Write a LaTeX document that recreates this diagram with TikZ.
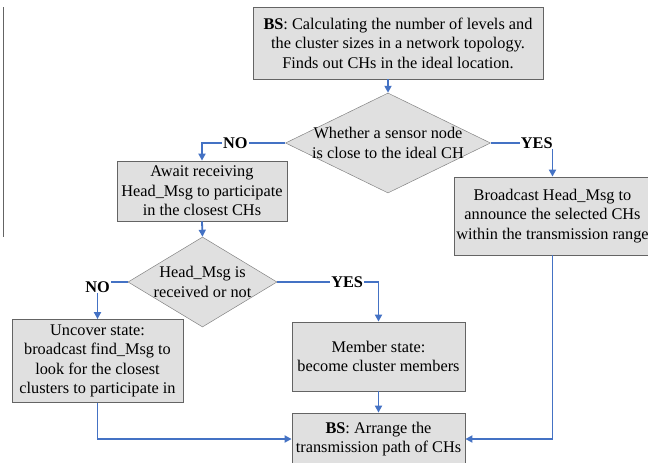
\documentclass[tikz,border=0pt]{standalone}
\usepackage{fontspec}
\setmainfont{Liberation Serif}
\usetikzlibrary{shapes.geometric,arrows.meta}
\definecolor{boxgray}{RGB}{224,224,224}
\definecolor{edgegray}{RGB}{100,100,100}
\definecolor{flowblue}{RGB}{68,114,196}
\begin{document}
\begin{tikzpicture}
[x=1pt,y=-1pt,%
  every node/.style={font=\fontsize{16.3}{19.5}\selectfont,align=center},
  stepbox/.style={shape=rectangle,draw=edgegray,fill=boxgray,inner sep=0pt,line width=0.8pt},
  choice/.style={shape=diamond,draw=edgegray!80,fill=boxgray,inner sep=0pt,line width=0.5pt},
  flow/.style={draw=flowblue,line width=1.8pt,-{Triangle[length=7pt,width=7pt]}},
  answer/.style={font=\fontsize{16.3}{19.5}\selectfont\bfseries,fill=white,inner sep=1pt}]
\useasboundingbox (0,0) rectangle (648,463);
\clip (0,0) rectangle (648,463);
\draw[edgegray,line width=0.8pt] (3,7) -- (3,237);
\node[stepbox,minimum width=290pt,minimum height=72pt] (levels) at (398,43)
  {\textbf{BS}: Calculating the number of levels and\\the cluster sizes in a network topology.\\Finds out CHs in the ideal location.};
\node[choice,minimum width=205pt,minimum height=100pt,
  label=center:{Whether a sensor node\\is close to the ideal CH}] (close) at (388,143) {};
\node[stepbox,minimum width=170pt,minimum height=60pt] (await) at (202,191)
  {Await receiving\\Head\_Msg to participate\\in the closest CHs};
\node[stepbox,minimum width=197pt,minimum height=78pt] (announce) at (552.5,216)
  {Broadcast Head\_Msg to\\announce the selected CHs\\within the transmission range};
\node[choice,minimum width=149pt,minimum height=90pt,
  label=center:{Head\_Msg is\\received or not}] (received) at (202.5,282) {};
\node[stepbox,minimum width=171pt,minimum height=83pt] (uncover) at (97.5,361)
  {Uncover state:\\broadcast find\_Msg to\\look for the closest\\clusters to participate in};
\node[stepbox,minimum width=173pt,minimum height=69pt] (member) at (378.5,356.5)
  {Member state:\\become cluster members};
\node[stepbox,minimum width=173pt,minimum height=52pt] (arrange) at (378.5,439)
  {\textbf{BS}: Arrange the\\transmission path of CHs};
\draw[flow] (close.north |- levels.south) -- (close.north);
\draw[flow] (close.west) -| (await.north) node[answer,pos=0.3] {NO};
\draw[flow] (close.east) -| (announce.north) node[answer,pos=0.5,anchor=east,xshift=2pt] {YES};
\draw[flow] (await.south) -- (received.north);
\draw[flow] (received.west) -| (uncover.north) node[answer,pos=0.5,yshift=-5pt] {NO};
\draw[flow] (received.east) -| (member.north) node[answer,pos=0.345] {YES};
\draw[flow] (member.south) -- (arrange.north);
\draw[flow] (uncover.south) |- (arrange.west);
\draw[flow] (announce.south) |- (arrange.east);
\end{tikzpicture}
\end{document}
